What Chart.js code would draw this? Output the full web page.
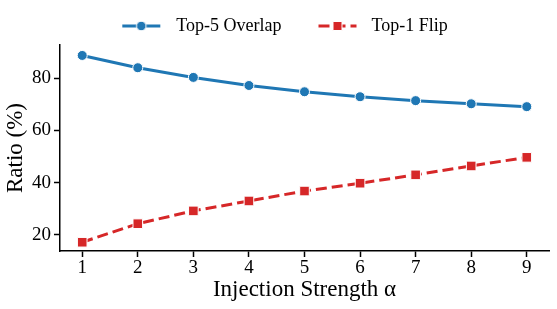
<!DOCTYPE html>
<html>
<head>
<meta charset="utf-8">
<script src="https://cdn.jsdelivr.net/npm/chart.js@4.4.1/dist/chart.umd.min.js"></script>
<style>
  html, body { margin: 0; padding: 0; background: #ffffff; }
  #wrap { width: 557px; height: 309px; }
</style>
</head>
<body>
<div id="wrap"><canvas id="c" width="557" height="309"></canvas></div>
<script>
const alphaValues = [1, 2, 3, 4, 5, 6, 7, 8, 9];
const top5Overlap = [88.7, 84.0, 80.3, 77.2, 74.8, 72.9, 71.4, 70.2, 69.1];
const top1Flip = [17.2, 24.3, 29.2, 33.0, 36.8, 39.8, 43.0, 46.4, 49.7];
const yTickValues = [20, 40, 60, 80];
const xTickValues = [1, 2, 3, 4, 5, 6, 7, 8, 9];
const seriesNames = ['Top-5 Overlap', 'Top-1 Flip'];

const BLUE = '#1f77b4';
const RED = '#d62728';
const FONT = "'Liberation Serif', 'Times New Roman', serif";

function legendIcon(color, dashed, square, offset) {
  const cv = document.createElement('canvas');
  cv.width = 66; cv.height = 14;
  const g = cv.getContext('2d');
  g.strokeStyle = color; g.lineWidth = 3;
  g.setLineDash(dashed ? [11, 5] : []);
  g.beginPath(); g.moveTo(offset, 7); g.lineTo(offset + 38, 7); g.stroke();
  g.setLineDash([]);
  g.fillStyle = color; g.strokeStyle = '#ffffff'; g.lineWidth = 1;
  const cx = offset + 19;
  g.beginPath();
  if (square) g.rect(cx - 4.5, 7 - 4.5, 9, 9);
  else g.arc(cx, 7, 4.8, 0, Math.PI * 2);
  g.fill(); g.stroke();
  return cv;
}
const icons = [legendIcon(BLUE, false, false, 21), legendIcon(RED, true, true, 22)];

const toPoints = (vals) => vals.map((v, i) => ({ x: alphaValues[i], y: v }));

new Chart(document.getElementById('c'), {
  type: 'line',
  data: {
    datasets: [
      {
        label: seriesNames[0],
        data: toPoints(top5Overlap),
        borderColor: BLUE,
        backgroundColor: BLUE,
        borderWidth: 3,
        pointStyle: 'circle',
        pointRadius: 5,
        pointBackgroundColor: BLUE,
        pointBorderColor: '#ffffff',
        pointBorderWidth: 1,
        tension: 0
      },
      {
        label: seriesNames[1],
        data: toPoints(top1Flip),
        borderColor: RED,
        backgroundColor: RED,
        borderWidth: 3,
        borderDash: [11, 5],
        pointStyle: 'rect',
        pointRadius: 6.8,
        pointBackgroundColor: RED,
        pointBorderColor: '#ffffff',
        pointBorderWidth: 1,
        tension: 0
      }
    ]
  },
  options: {
    responsive: false,
    animation: false,
    devicePixelRatio: 1,
    layout: { padding: { top: -10, right: 8, left: 0, bottom: 0 } },
    plugins: {
      tooltip: { enabled: false },
      legend: {
        display: true,
        position: 'top',
        labels: {
          usePointStyle: true,
          pointStyleWidth: 66,
          padding: 15,
          color: '#000000',
          font: { family: FONT, size: 18 },
          generateLabels: (chart) => chart.data.datasets.map((ds, i) => ({
            text: ds.label,
            pointStyle: icons[i],
            fillStyle: ds.borderColor,
            strokeStyle: ds.borderColor,
            lineWidth: 0,
            hidden: false,
            datasetIndex: i,
            fontColor: '#000000'
          }))
        }
      }
    },
    scales: {
      x: {
        type: 'linear',
        min: 0.6,
        max: 9.4,
        afterBuildTicks: (s) => { s.ticks = xTickValues.map(v => ({ value: v })); },
        afterFit: (s) => { s.height = 58; },
        grid: { display: true, drawOnChartArea: false, drawTicks: true, tickLength: 6, tickWidth: 1.5, tickColor: '#000000' },
        border: { display: true, color: '#000000', width: 1.5 },
        ticks: { color: '#000000', padding: 0, font: { family: FONT, size: 19 } },
        title: { display: true, text: 'Injection Strength α', color: '#000000', font: { family: FONT, size: 23 }, padding: { top: 0, bottom: 5 } }
      },
      y: {
        type: 'linear',
        min: 13.85,
        max: 92.7,
        afterBuildTicks: (s) => { s.ticks = yTickValues.map(v => ({ value: v })); },
        afterFit: (s) => { s.width = 60; s.paddingTop = 45; },
        grid: { display: true, drawOnChartArea: false, drawTicks: true, tickLength: 6, tickWidth: 1.5, tickColor: '#000000' },
        border: { display: true, color: '#000000', width: 1.5 },
        ticks: { color: '#000000', padding: 3, font: { family: FONT, size: 19 } },
        title: { display: true, text: 'Ratio (%)', color: '#000000', font: { family: FONT, size: 23 }, padding: { top: 2, bottom: 0 } }
      }
    }
  }
});
</script>
</body>
</html>
